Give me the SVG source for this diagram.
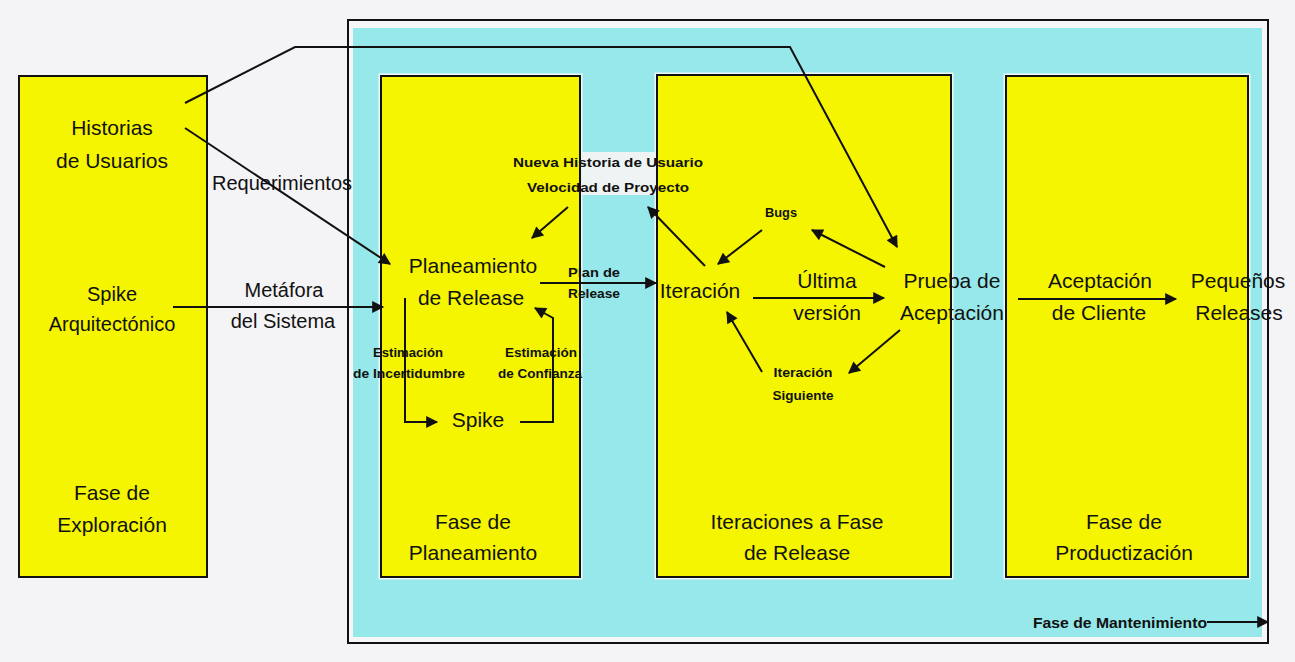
<svg xmlns="http://www.w3.org/2000/svg" width="1295" height="662" viewBox="0 0 1295 662">
<style>
text{font-family:"Liberation Sans",Arial,sans-serif;fill:#111;text-anchor:middle}
.big{font-size:21px}
.mid{font-size:20px}
.sm{font-size:13px;font-weight:bold}
.box{fill:#f5f500;stroke:#111;stroke-width:2}
.halo{fill:#eef6f6}
.c{stroke:#111;stroke-width:2;fill:none;marker-end:url(#ah)}
</style>
<defs>
<marker id="ah" viewBox="0 0 10 10" refX="9" refY="5" markerWidth="15" markerHeight="12" markerUnits="userSpaceOnUse" orient="auto">
<path d="M0,0 L10,5 L0,10 z" fill="#111"/>
</marker>
</defs>
<rect x="0" y="0" width="1295" height="662" fill="#f4f4f6"/>
<g id="mantenimiento">
<rect x="348" y="20" width="920" height="623" fill="#f4f6f7" stroke="#111" stroke-width="2"/>
<rect x="353" y="28" width="909" height="609" fill="#96e8ea"/>
</g>
<g id="exploracion">
<rect class="box" x="19" y="76" width="188" height="501"/>
<text class="big" x="112" y="135">Historias</text>
<text class="big" x="112" y="168">de Usuarios</text>
<text class="mid" x="112" y="301">Spike</text>
<text class="mid" x="112" y="331">Arquitectónico</text>
<text class="big" x="112" y="500">Fase de</text>
<text class="big" x="112" y="532">Exploración</text>
</g>
<g id="planeamiento">
<rect class="halo" x="378.5" y="73.5" width="204" height="506"/>
<rect class="box" x="381" y="76" width="199" height="501"/>
<text class="big" x="473" y="273">Planeamiento</text>
<text class="big" x="471" y="305">de Release</text>
<text class="big" x="478" y="427">Spike</text>
<text class="big" x="473" y="529">Fase de</text>
<text class="big" x="473" y="560">Planeamiento</text>
</g>
<g id="iteraciones">
<rect class="halo" x="654.5" y="72.5" width="299" height="507"/>
<rect class="box" x="657" y="75" width="294" height="502"/>
<text class="big" x="700" y="298">Iteración</text>
<text class="big" x="827" y="288">Última</text>
<text class="big" x="827" y="320">versión</text>
<text class="big" x="797" y="529">Iteraciones a Fase</text>
<text class="big" x="797" y="560">de Release</text>
</g>
<g id="productizacion">
<rect class="halo" x="1003.5" y="73.5" width="247" height="506"/>
<rect class="box" x="1006" y="76" width="242" height="501"/>
<text class="big" x="1100" y="288">Aceptación</text>
<text class="big" x="1099" y="320">de Cliente</text>
<text class="big" x="1124" y="529">Fase de</text>
<text class="big" x="1124" y="560">Productización</text>
</g>
<g id="prueba">
<text class="big" x="952" y="288">Prueba de</text>
<text class="big" x="952" y="320">Aceptación</text>
</g>
<g id="pequenos">
<text class="big" x="1238" y="288">Pequeños</text>
<text class="big" x="1239" y="320">Releases</text>
</g>
<g id="nueva-historia">
<rect x="581" y="152" width="75" height="43" fill="#eef3f3"/>
<text class="sm" x="608" y="167" textLength="190" lengthAdjust="spacingAndGlyphs">Nueva Historia de Usuario</text>
<text class="sm" x="608" y="192" textLength="162" lengthAdjust="spacingAndGlyphs">Velocidad de Proyecto</text>
</g>
<g id="bugs">
<text class="sm" x="781" y="217" textLength="32" lengthAdjust="spacingAndGlyphs">Bugs</text>
</g>
<g id="iteracion-siguiente">
<text class="sm" x="803" y="377" textLength="59" lengthAdjust="spacingAndGlyphs">Iteración</text>
<text class="sm" x="803" y="400" textLength="61" lengthAdjust="spacingAndGlyphs">Siguiente</text>
</g>
<g id="connectors">
<polyline class="c" stroke-width="2.5" points="185,103 295,47 790,47 897,247"/>
<line class="c" x1="185" y1="128" x2="390" y2="264"/>
<line class="c" stroke-width="3" x1="173" y1="307" x2="383" y2="307"/>
<line class="c" x1="568" y1="207" x2="532" y2="238"/>
<line class="c" x1="705" y1="266" x2="648" y2="207"/>
<line class="c" stroke-width="4" x1="540" y1="283" x2="656" y2="283"/>
<path class="c" d="M405,298 V422 H437"/>
<path class="c" d="M520,422 H553 V318 L535,308"/>
<line class="c" stroke-width="3" x1="753" y1="298" x2="884" y2="298"/>
<line class="c" x1="762" y1="230" x2="718" y2="264"/>
<line class="c" x1="885" y1="267" x2="812" y2="230"/>
<line class="c" x1="900" y1="330" x2="849" y2="373"/>
<line class="c" x1="762" y1="372" x2="727" y2="312"/>
<line class="c" stroke-width="3" x1="1018" y1="299" x2="1176" y2="299"/>
<line class="c" stroke-width="3" x1="1207" y1="622" x2="1268" y2="622"/>
</g>
<g id="labels">
<text class="mid" x="282" y="190">Requerimientos</text>
<text class="mid" x="284" y="297">Metáfora</text>
<text class="mid" x="283" y="328">del Sistema</text>
<text class="sm" x="594" y="277" font-size="12" textLength="52" lengthAdjust="spacingAndGlyphs">Plan de</text>
<text class="sm" x="594" y="298" font-size="12" textLength="52" lengthAdjust="spacingAndGlyphs">Release</text>
<text class="sm" x="408" y="357" textLength="70" lengthAdjust="spacingAndGlyphs">Estimación</text>
<text class="sm" x="409" y="378" textLength="112" lengthAdjust="spacingAndGlyphs">de Incertidumbre</text>
<text class="sm" x="541" y="357" textLength="72" lengthAdjust="spacingAndGlyphs">Estimación</text>
<text class="sm" x="540" y="378" textLength="84" lengthAdjust="spacingAndGlyphs">de Confianza</text>
<text class="sm" x="1120" y="628" style="font-size:15px" textLength="174" lengthAdjust="spacingAndGlyphs">Fase de Mantenimiento</text>
</g>
</svg>
